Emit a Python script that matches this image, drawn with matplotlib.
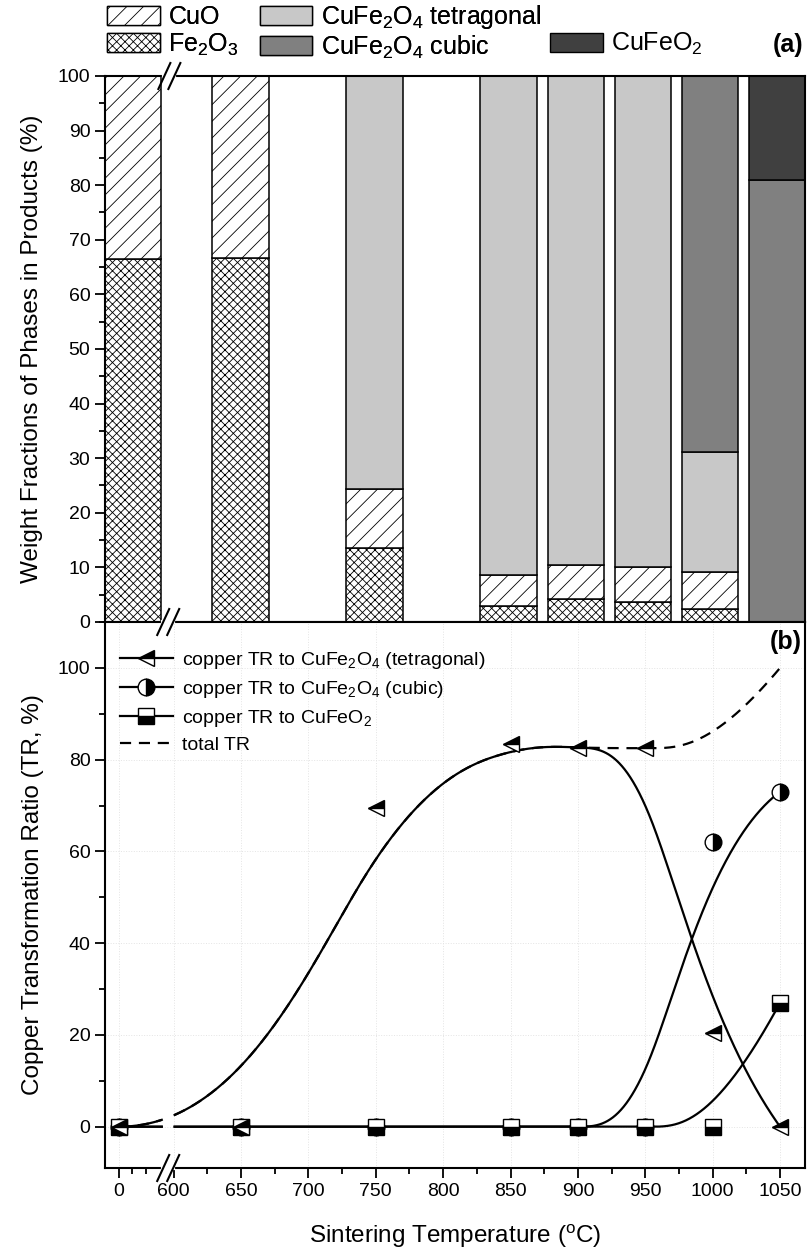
import matplotlib
matplotlib.use("Agg")
import matplotlib.pyplot as plt
import numpy as np
from matplotlib.patches import Patch
from matplotlib.lines import Line2D

plt.rcParams['font.family'] = ['Liberation Sans', 'DejaVu Sans']
plt.rcParams['mathtext.fontset'] = 'custom'
plt.rcParams['mathtext.rm'] = 'Liberation Sans'
plt.rcParams['mathtext.it'] = 'Liberation Sans:italic'
plt.rcParams['mathtext.bf'] = 'Liberation Sans:bold'
plt.rcParams['hatch.linewidth'] = 0.6

######### data #########

temps = [0, 650, 750, 850, 900, 950, 1000, 1050]

# (a) weight fractions (%)
fe2o3 = [66.4, 66.6, 13.5, 2.9, 4.2, 3.7, 2.4, 0]
cuo = [33.6, 33.4, 10.9, 5.7, 6.2, 6.3, 6.8, 0]
tetra = [0, 0, 75.6, 91.4, 89.6, 90.0, 21.9, 0]
cubic = [0, 0, 0, 0, 0, 0, 68.9, 80.9]
cufeo2 = [0, 0, 0, 0, 0, 0, 0, 19.1]

# (b) copper transformation ratio (%)
tr_tetra = [0, 0, 69.5, 83.5, 82.5, 82.5, 20.5, 0]
tr_cubic = [0, 0, 0, 0, 0, 0, 62, 73]
tr_cufeo2 = [0, 0, 0, 0, 0, 0, 0, 27]

xtick_vals = [0, 600, 650, 700, 750, 800, 850, 900, 950, 1000, 1050]

#########################

temps = np.array(temps, dtype=float)
tr_total = np.array(tr_tetra) + np.array(tr_cubic) + np.array(tr_cufeo2)

# broken axis: 0 sits left of the break, 600+ are shifted next to it
gap_a = 570.0
gap_b = 559.5
brk_b = 36.5
brk_a = 27.0
hide_b = (32.0, 40.5)   # axis positions hidden by the break in (b)


def pos(t, gap):
    t = np.asarray(t, dtype=float)
    return np.where(t < 300, t, t - gap)


def bspline(xs, ys, n=1500):
    # clamped cubic B-spline with the points as control points
    P = np.column_stack([xs, ys]).astype(float)
    k = 3
    m = len(P)
    knots = np.concatenate([np.zeros(k), np.linspace(0, 1, m - k + 1), np.ones(k)])
    t = np.linspace(0, 1, n)
    N = np.zeros((n, len(knots) - 1))
    for i in range(len(knots) - 1):
        N[:, i] = (knots[i] <= t) & (t < knots[i + 1])
    N[t >= 1, m - 1] = 1
    for p in range(1, k + 1):
        Nn = np.zeros((n, len(knots) - 1 - p))
        for i in range(len(knots) - 1 - p):
            d1 = knots[i + p] - knots[i]
            d2 = knots[i + p + 1] - knots[i + 1]
            a = (t - knots[i]) / d1 * N[:, i] if d1 > 0 else 0
            b = (knots[i + p + 1] - t) / d2 * N[:, i + 1] if d2 > 0 else 0
            Nn[:, i] = a + b
        N = Nn
    c = N @ P
    return c[:, 0], c[:, 1]


def broken_curve(xs, ys):
    cx, cy = bspline(pos(xs, gap_b), ys)
    cy = np.where((cx > hide_b[0]) & (cx < hide_b[1]), np.nan, cy)
    return cx, cy


fig = plt.figure(figsize=(8.07, 12.49), dpi=100)
W, H = 807, 1249
ax_a = fig.add_axes([105 / W, 1 - 622 / H, 700 / W, 546 / H])
ax_b = fig.add_axes([105 / W, 1 - 1168 / H, 700 / W, 546 / H])

# ---------------- (a) ----------------
bar_w = 42
xa = pos(temps, gap_a)
layers = [
    (fe2o3, dict(facecolor='white', hatch='xxxx'), 'Fe$_2$O$_3$'),
    (cuo, dict(facecolor='white', hatch='//'), 'CuO'),
    (tetra, dict(facecolor='#c8c8c8'), 'CuFe$_2$O$_4$ tetragonal'),
    (cubic, dict(facecolor='#808080'), 'CuFe$_2$O$_4$ cubic'),
    (cufeo2, dict(facecolor='#404040'), 'CuFeO$_2$'),
]
bottom = np.zeros(len(temps))
handles = {}
for vals, style, lab in layers:
    vals = np.array(vals, dtype=float)
    m = vals > 0
    ax_a.bar(xa[m], vals[m], bar_w, bottom=bottom[m], edgecolor='black',
             linewidth=1.1, **style)
    handles[lab] = Patch(edgecolor='black', linewidth=1.0, **style)
    bottom += vals

ax_a.set_xlim(-21, 1071 - gap_a)
ax_a.set_ylim(0, 100)
ax_a.set_yticks(np.arange(0, 101, 10))
ax_a.set_yticks(np.arange(5, 100, 10), minor=True)
ax_a.set_xticks([])
ax_a.tick_params(axis='y', which='major', direction='out', length=7, width=1.3, labelsize=14)
ax_a.tick_params(axis='y', which='minor', direction='out', length=4, width=1.3)
ax_a.set_ylabel('Weight Fractions of Phases in Products (%)', fontsize=17.5, labelpad=11)
for s in ax_a.spines.values():
    s.set_linewidth(1.5)

leg_kw = dict(frameon=False, fontsize=18, handlelength=2.1, handleheight=0.8,
              handletextpad=0.35, labelspacing=0.1, borderaxespad=0.0, borderpad=0.0)
leg1 = fig.legend([handles['CuO'], handles['Fe$_2$O$_3$'],
                   handles['CuFe$_2$O$_4$ tetragonal'], handles['CuFe$_2$O$_4$ cubic']],
                  ['CuO', 'Fe$_2$O$_3$', 'CuFe$_2$O$_4$ tetragonal', 'CuFe$_2$O$_4$ cubic'],
                  ncol=2, loc='upper left', bbox_to_anchor=(107 / W, 1 - 3 / H),
                  columnspacing=0.85, **leg_kw)
fig.legend([handles['CuFeO$_2$']], ['CuFeO$_2$'], loc='upper left',
           bbox_to_anchor=(550 / W, 1 - 31 / H), **leg_kw)
fig.add_artist(leg1)
fig.text(803 / W, 1 - 45 / H, '(a)', fontsize=18, fontweight='bold', ha='right', va='center')

# ---------------- (b) ----------------
xb = pos(temps, gap_b)
ax_b.plot(*broken_curve(temps, tr_total), color='black', lw=1.6, ls=(0, (5, 3.5)))
ax_b.plot(*broken_curve(temps, tr_tetra), color='black', lw=1.6)
ax_b.plot(*broken_curve(temps, tr_cubic), color='black', lw=1.6)
ax_b.plot(*broken_curve(temps, tr_cufeo2), color='black', lw=1.6)

mk = dict(ls='none', markersize=12, markeredgecolor='black', markeredgewidth=1.0,
          markerfacecolor='black', markerfacecoloralt='white')
sty_tet = dict(marker='<', fillstyle='top')
sty_cub = dict(marker='o', fillstyle='right')
sty_fo2 = dict(marker='s', fillstyle='bottom')
ax_b.plot(xb, tr_cubic, **sty_cub, **mk, zorder=3)
ax_b.plot(xb, tr_cufeo2, **sty_fo2, **mk, zorder=3)
ax_b.plot(xb, tr_tetra, **sty_tet, **mk, zorder=3)

lh = dict(color='black', lw=1.6, markersize=12, markeredgecolor='black',
          markerfacecolor='black', markerfacecoloralt='white')
leg_b = [Line2D([], [], **sty_tet, **lh), Line2D([], [], **sty_cub, **lh),
         Line2D([], [], **sty_fo2, **lh), Line2D([], [], color='black', lw=1.6, ls=(0, (5, 3.5)))]
ax_b.legend(leg_b, ['copper TR to CuFe$_2$O$_4$ (tetragonal)', 'copper TR to CuFe$_2$O$_4$ (cubic)',
                    'copper TR to CuFeO$_2$', 'total TR'],
            loc='upper left', bbox_to_anchor=(15 / 700, 1 - 28 / 546), frameon=False,
            fontsize=14, handlelength=2.7, handletextpad=0.5, labelspacing=0.4,
            borderaxespad=0.0, borderpad=0.0)
ax_b.text(0.995, 0.985, '(b)', transform=ax_b.transAxes, fontsize=18, fontweight='bold',
          ha='right', va='top')

ax_b.set_xlim(-10.4, 509)
ax_b.set_ylim(-9, 110)
ax_b.set_xticks(pos(xtick_vals, gap_b))
ax_b.set_xticklabels([str(v) for v in xtick_vals])
minor_t = [10, 20] + list(range(625, 1051, 50))
ax_b.set_xticks(pos(minor_t, gap_b), minor=True)
ax_b.set_yticks(np.arange(0, 101, 20))
ax_b.set_yticks(np.arange(10, 111, 20), minor=True)
ax_b.tick_params(which='major', direction='out', length=7, width=1.3, labelsize=14)
ax_b.tick_params(which='minor', direction='out', length=4, width=1.3)
ax_b.grid(True, which='major', color='#e4e4e4', ls=':', lw=0.7)
ax_b.set_axisbelow(True)
ax_b.set_ylabel('Copper Transformation Ratio (TR, %)', fontsize=17.5, labelpad=10)
ax_b.set_xlabel(r'Sintering Temperature ($^{\rm o}$C)', fontsize=17.5, labelpad=17)
for s in ax_b.spines.values():
    s.set_linewidth(1.5)


# break marks
def break_mark(ax, xd, yax, gapw=5):
    xa0 = ax.transData.transform((xd, 0))[0]
    inv = ax.transAxes.inverted()
    disp_y = ax.transAxes.transform((0, yax))[1]
    x0 = inv.transform((xa0 - gapw, disp_y))[0]
    x1 = inv.transform((xa0 + gapw, disp_y))[0]
    ax.plot([x0, x1], [yax, yax], color='white', lw=3, transform=ax.transAxes,
            clip_on=False, zorder=5)
    for dx in (xa0 - gapw, xa0 + gapw):
        p0 = inv.transform((dx - 6, disp_y - 13))
        p1 = inv.transform((dx + 6, disp_y + 13))
        ax.plot([p0[0], p1[0]], [p0[1], p1[1]], color='black', lw=1.5,
                transform=ax.transAxes, clip_on=False, zorder=6)


fig.canvas.draw()
break_mark(ax_a, brk_a, 1.0)
break_mark(ax_b, brk_b, 1.0)
break_mark(ax_b, brk_b, 0.0)

fig.savefig('out.png', dpi=100)
